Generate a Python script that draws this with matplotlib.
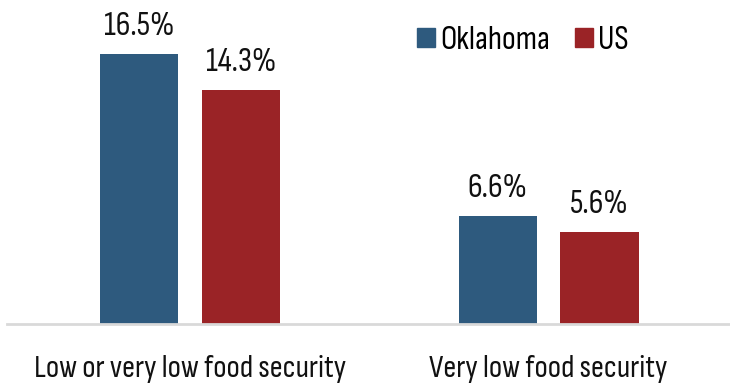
import numpy as np
import matplotlib.pyplot as plt
from matplotlib import font_manager
from matplotlib.patches import Patch

categories = ["Low or very low food security", "Very low food security"]
series = ["Oklahoma", "US"]
oklahoma = [16.5, 6.6]
us = [14.3, 5.6]
colors = ["#2E5A7E", "#9A2326"]

W, H = 730, 385
fig = plt.figure(figsize=(W / 100, H / 100), dpi=100)
renderer = fig.canvas.get_renderer()

# pick the installed condensed face whose width comes closest to the original
installed = {f.name for f in font_manager.fontManager.ttflist}
wanted = ["Fira Sans Extra Condensed", "Fira Sans Condensed", "PT Sans Narrow",
          "Roboto Condensed", "Open Sans Condensed", "Encode Sans Condensed",
          "Encode Sans Semi Condensed", "Asap Condensed", "Barlow Semi Condensed",
          "Archivo Narrow", "Sofia Sans Condensed", "Liberation Sans Narrow"]


def em_width(s, family):
    t = fig.text(0, 0, s, fontsize=72, family=family)
    w = t.get_window_extent(renderer).width
    t.remove()
    return w / 100


cands = [n for n in wanted if n in installed] or ["DejaVu Sans"]
face = min(cands, key=lambda n: abs(em_width(categories[0], n) - 9.45))
plt.rcParams['font.family'] = [face, 'DejaVu Sans']

ax = fig.add_axes([7 / W, (H - 324) / H, 1 - 7 / W, 324 / H])


def fit_size(s, width_px, start=20):
    t = fig.text(0, 0, s, fontsize=start)
    w = t.get_window_extent(renderer).width
    t.remove()
    return start * width_px / w


x = np.arange(len(categories))
w = 0.218
off = 0.142

fs_val = fit_size("16.5%", 70)
for vals, c, sign in zip([oklahoma, us], colors, [-1, 1]):
    bars = ax.bar(x + sign * off, vals, width=w, color=c, zorder=2)
    for b, v in zip(bars, vals):
        ax.annotate(f"{v}%", (b.get_x() + b.get_width() / 2, v),
                    xytext=(0, 13.7), textcoords="offset points",
                    ha="center", va="baseline", fontsize=fs_val, color="#111111")

ax.set_xlim(-0.51, 1.506)
ax.set_ylim(0, 19.8)
ax.set_yticks([])
ax.set_xticks(x)
fs_cat = fit_size(categories[0], 312)
ax.set_xticklabels(categories, fontsize=fs_cat, color="#111111", va="baseline")
ax.tick_params(axis="x", length=0, pad=38)
for s in ["top", "right", "left"]:
    ax.spines[s].set_visible(False)
ax.spines["bottom"].set_color("#D9D9D9")
ax.spines["bottom"].set_linewidth(2)

fs_leg = fit_size("Oklahoma", 110)
em = fs_leg * 100 / 72
handles = [Patch(color=c, label=s) for c, s in zip(colors, series)]
ax.legend(handles=handles, loc="upper left", bbox_to_anchor=(417 / W, 1 - 26 / H),
          bbox_transform=fig.transFigure, ncol=2, frameon=False, fontsize=fs_leg,
          handlelength=18 / em, handleheight=17 / em, handletextpad=5 / em,
          columnspacing=25 / em, borderpad=0, borderaxespad=0)

fig.savefig("out.png", dpi=100)
